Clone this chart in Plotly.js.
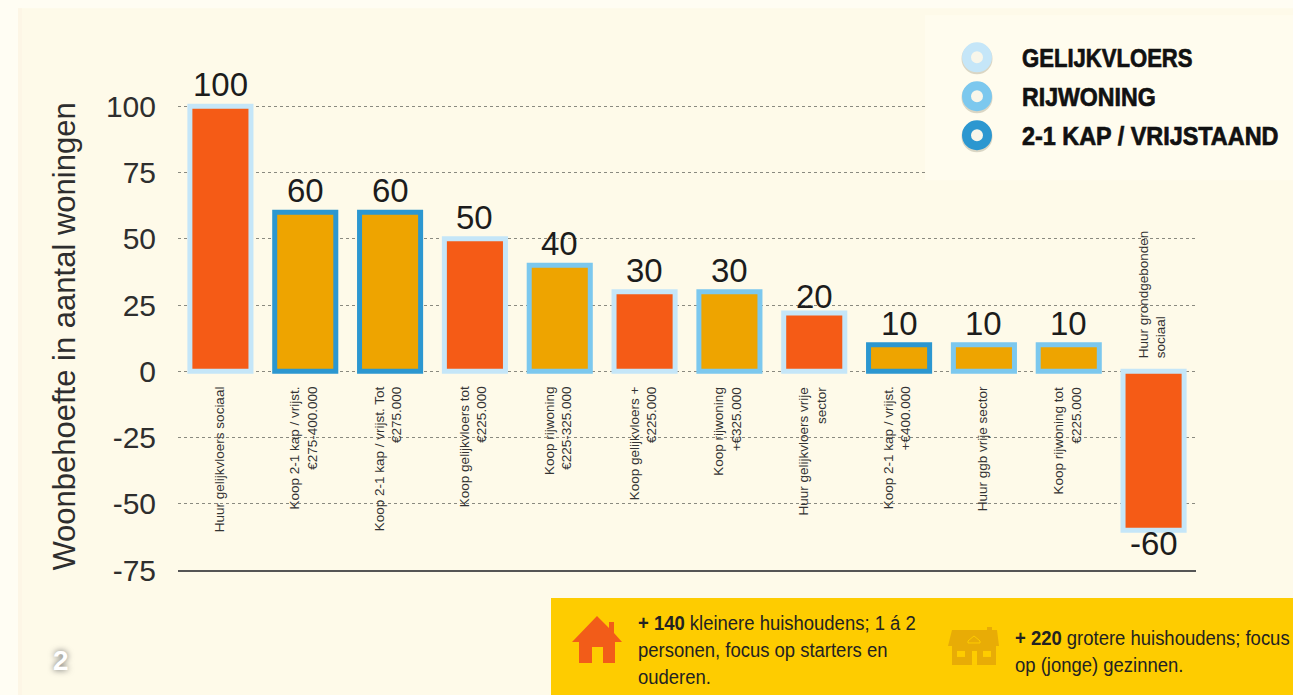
<!DOCTYPE html>
<html>
<head>
<meta charset="utf-8">
<script src="https://cdn.plot.ly/plotly-3.0.1.min.js"></script>
<style>html,body{margin:0;padding:0;background:#FFFDF3;overflow:hidden}</style>
</head>
<body>
<div id="chart" style="width:1293px;height:695px"></div>
<script>
const categories = ["Huur gelijkvloers sociaal","Koop 2-1 kap / vrijst.<br>€275-400.000","Koop 2-1 kap / vrijst. Tot<br>€275.000","Koop gelijkvloers tot<br>€225.000","Koop rijwoning<br>€225-325.000","Koop gelijkvloers +<br>€225.000","Koop rijwoning<br>+€325.000","Huur gelijkvloers vrije<br>sector","Koop 2-1 kap / vrijst.<br>+€400.000","Huur ggb vrije sector","Koop rijwoning tot<br>€225.000","Huur grondgebonden<br>sociaal"];
const barHeights = [100,60,60,50,40,30,30,22,10,10,10,-60];
const valueLabels = [100,60,60,50,40,30,30,20,10,10,10,-60];
const fillColors = ["#F55B16","#EEA400","#EEA400","#F55B16","#EEA400","#F55B16","#EEA400","#F55B16","#EEA400","#EEA400","#EEA400","#F55B16"];
const outlineColors = ["#C5E6F8","#2C97D0","#2C97D0","#C5E6F8","#7CC8EE","#C5E6F8","#7CC8EE","#C5E6F8","#2C97D0","#7CC8EE","#7CC8EE","#C5E6F8"];
const yTicks = [-75,-50,-25,0,25,50,75,100];
const legendNames = ["GELIJKVLOERS","RIJWONING","2-1 KAP / VRIJSTAAND"];
const legendColors = ["#C5E6F8","#7CC8EE","#2C97D0"];

const L=178,R=1196,B=570,unit=(570-106)/175,T=B-180*unit;
const px=x=>(x-L)/(R-L), py=y=>(B-y)/(B-T);
const sans='"Liberation Sans",Arial,sans-serif';

function rect(x0,y0,x1,y1,fill,layer){return {type:'rect',xref:'paper',yref:'paper',x0:px(x0),x1:px(x1),y0:py(y0),y1:py(y1),fillcolor:fill,line:{width:0},layer:layer||'above'};}
function circ(cx,cy,r,fill,line,lw){return {type:'circle',xref:'paper',yref:'paper',x0:px(cx-r),x1:px(cx+r),y0:py(cy+r),y1:py(cy-r),fillcolor:fill,line:{color:line||fill,width:lw||0},layer:'above'};}
function poly(pts,fill,line){return {type:'path',xref:'paper',yref:'paper',path:'M'+pts.map(p=>px(p[0])+','+py(p[1])).join(' L')+' Z',fillcolor:fill,line:line||{width:0},layer:'above'};}
function text(x,y,t,size,color,extra){return Object.assign({xref:'paper',yref:'paper',x:px(x),y:py(y),text:t,showarrow:false,xanchor:'left',yanchor:'middle',align:'left',font:{size:size,color:color,family:sans}},extra||{});}

const shapes=[
  rect(18,8,1293,695,'#FEFAE9','below'),
  rect(18,8,22,695,'#FDF6E6','below'),
  rect(925,15,1293,180,'#FFFCEE'),
  rect(551,598,1293,695,'#FECC00')
];
const legendY=[57,96,135];
legendColors.forEach((c,i)=>{
  shapes.push(circ(977,legendY[i]+1.5,15.5,'#DAD6C4'));
  shapes.push(circ(977,legendY[i],10.5,'#F8F6EA',c,9));
});
// orange house icon
const orange='#F25C19';
shapes.push(poly([[572,642],[597,616],[609,628],[609,622],[614,622],[614,633],[622,642],[615,642],[615,663],[603,663],[603,647],[592,647],[592,663],[579,663],[579,642]],orange));
// yellow house icon
const ochre='#E8AC06', gold='#FECC00';
shapes.push(poly([[952,630],[987,630],[987,627],[992,627],[992,630],[997,630],[999,646],[996,646],[996,665],[952,665],[952,646],[948,646]],ochre));
shapes.push(poly([[968,641],[974,636],[980,641],[980,643],[968,643]],'rgba(0,0,0,0)',{color:gold,width:1}));
shapes.push(rect(957,651,965,657,gold));
shapes.push(rect(972,651,977,665,gold));
shapes.push(rect(983,651,991,657,gold));

const annotations=[];
categories.forEach((c,i)=>{
  const up=barHeights[i]<0;
  annotations.push({x:i,y:0,xref:'x',yref:'y',text:c,showarrow:false,textangle:-90,
    yanchor:up?'bottom':'top',xanchor:'center',align:up?'left':'right',
    xshift:-1.5,yshift:up?11:-13,font:{size:13.5,color:'#333',family:sans}});
});
valueLabels.forEach((v,i)=>{
  annotations.push({x:i,y:v,xref:'x',yref:'y',text:String(v),showarrow:false,
    yanchor:v<0?'top':'bottom',xanchor:'center',yshift:v<0?7:1,
    font:{size:33,color:'#1c1c1c',family:sans}});
});
const condensed=[];
function addCondensed(a,k,heavy){condensed.push([annotations.length,k,heavy]);annotations.push(a);}
const legendK=[0.85,0.89,0.90];
legendNames.forEach((n,i)=>addCondensed(text(1019.5,legendY[i]+1,'<b>'+n+'</b>',26,'#111'),legendK[i],true));
const bodyK=0.88;
addCondensed(text(635.5,623,'<b>+ 140</b> kleinere huishoudens; 1 á 2',21,'#222'),bodyK);
addCondensed(text(635.5,650,'personen, focus op starters en',21,'#222'),bodyK);
addCondensed(text(635.5,677,'ouderen.',21,'#222'),bodyK);
addCondensed(text(1012.5,638,'<b>+ 220</b> grotere huishoudens; focus',21,'#222'),bodyK);
addCondensed(text(1012.5,665,'op (jonge) gezinnen.',21,'#222'),bodyK);
const badge=text(61,661,'<b>2</b>',28,'#FFFFFF',{xanchor:'center'});
badge.font.shadow='0 0 6px #666';
annotations.push(badge);

Plotly.newPlot('chart',[{
  type:'bar',
  x:categories.map((c,i)=>i),
  y:barHeights,
  cliponaxis:false,
  width:0.72,
  marker:{color:fillColors,line:{color:outlineColors,width:5}},
  hoverinfo:'skip'
}],{
  width:1293,height:695,
  margin:{l:L,r:1293-R,t:T,b:695-B,pad:0},
  paper_bgcolor:'#FFFDF3',plot_bgcolor:'rgba(0,0,0,0)',
  showlegend:false,
  xaxis:{range:[-0.5,11.5],showticklabels:false,ticks:'',showgrid:false,zeroline:false,showline:true,linecolor:'#555',linewidth:1.5,fixedrange:true},
  yaxis:{range:[-75,105],tickmode:'array',tickvals:yTicks,ticktext:yTicks.map(String),ticks:'',ticklabelstandoff:21,tickfont:{size:30,color:'#2e2e2e',family:sans},
    gridcolor:'#8a8a80',griddash:'dot',gridwidth:1,zeroline:false,showline:false,fixedrange:true,automargin:false,
    title:{text:'Woonbehoefte in aantal woningen',font:{size:31,color:'#2e2e2e',family:sans},standoff:20}},
  shapes:shapes,annotations:annotations
},{displayModeBar:false,staticPlot:true}).then(gd=>{
  condensed.forEach(([idx,k,heavy])=>{
    const g=gd.querySelector('.annotation[data-index="'+idx+'"] text.annotation-text');
    if(!g)return;
    const x0=g.getBBox().x;
    g.setAttribute('transform','translate('+x0+' 0) scale('+k+' 1) translate('+(-x0)+' 0)');
    if(heavy){g.setAttribute('stroke','#111');g.setAttribute('stroke-width','0.7');}
  });
  const yt=gd.querySelector('.ytitle');
  if(yt)yt.setAttribute('transform','translate(-1 5) '+(yt.getAttribute('transform')||''));
});
</script>
</body>
</html>
